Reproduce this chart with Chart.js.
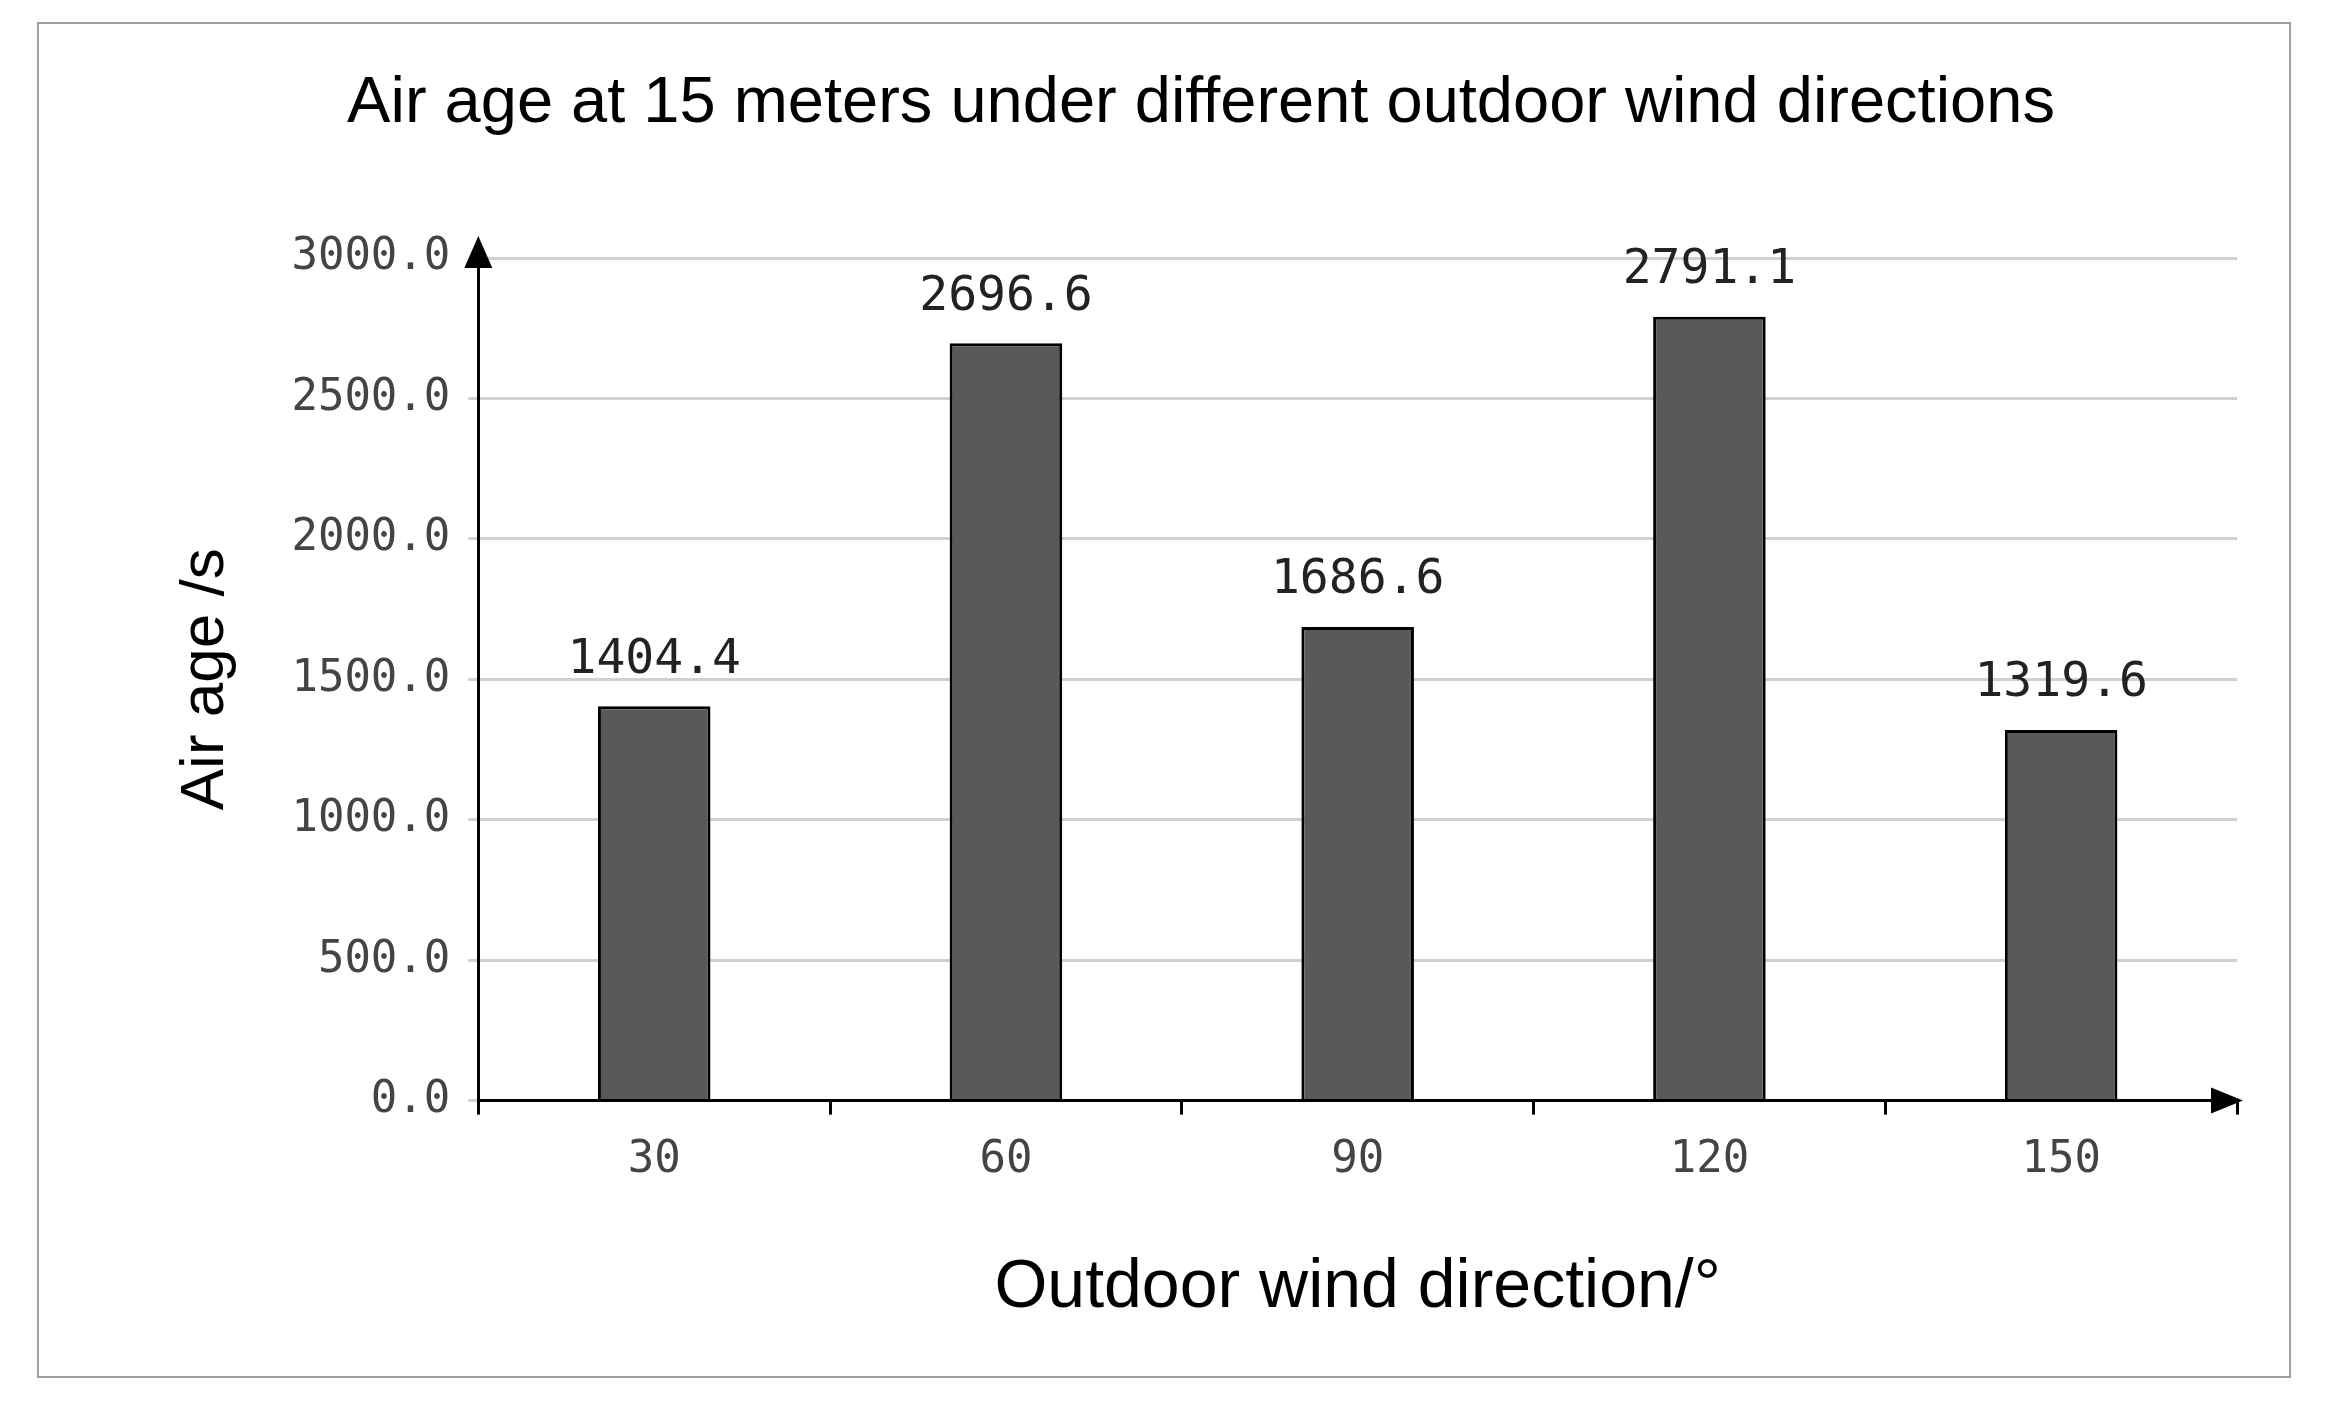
<!DOCTYPE html>
<html><head><meta charset="utf-8">
<script src="https://cdn.jsdelivr.net/npm/chart.js@4"></script>
<style>
html,body{margin:0;background:#fff;}
#frame{position:absolute;left:37px;top:22px;width:2254px;height:1356px;border:2px solid #a0a0a0;box-sizing:border-box;}
#wrap{position:absolute;left:0;top:0;width:2327px;height:1405px;}
</style></head><body>
<div id="frame"></div>
<div id="wrap"><canvas id="grafica"></canvas></div>
<script>
const direcciones = ["30","60","90","120","150"];
const edadAire = [1404.4, 2696.6, 1686.6, 2791.1, 1319.6];

// flechas en los ejes
const flechas = {
  id: 'flechas',
  afterDraw(chart){
    const c = chart.ctx, x = chart.scales.x, y = chart.scales.y;
    const y0 = y.getPixelForValue(0), yt = y.getPixelForValue(3000);
    c.save();
    c.fillStyle = '#000';
    c.beginPath();
    c.moveTo(x.left, yt - 22); c.lineTo(x.left - 14, yt + 10); c.lineTo(x.left + 14, yt + 10); c.closePath(); c.fill();
    c.beginPath();
    c.moveTo(x.right + 6, y0); c.lineTo(x.right - 26, y0 - 13); c.lineTo(x.right - 26, y0 + 13); c.closePath(); c.fill();
    c.restore();
  }
};

const etiquetas = {
  id: 'etiquetas',
  afterDatasetsDraw(chart){
    const c = chart.ctx, meta = chart.getDatasetMeta(0);
    c.save();
    c.font = '48px "DejaVu Sans Mono"';
    c.fillStyle = '#222';
    c.textAlign = 'center';
    c.textBaseline = 'bottom';
    meta.data.forEach((b, i) => c.fillText(edadAire[i].toFixed(1), b.x, b.y - 22));
    c.restore();
  }
};

new Chart(document.getElementById("grafica"), {
  type: 'bar',
  data: {
    labels: direcciones,
    datasets: [{
      data: edadAire,
      backgroundColor: "#595959",
      borderColor: "#000",
      borderWidth: 3,
      categoryPercentage: 1,
      barPercentage: 0.32
    }]
  },
  options: {
    responsive: true,
    maintainAspectRatio: false,
    animation: false,
    layout: { padding: { left: 165, right: 90, top: 35, bottom: 72 } },
    scales: {
      y: {
        min: 0, max: 3000,
        ticks: { stepSize: 500, callback: v => v.toFixed(1), color: '#444', font: { family: 'DejaVu Sans Mono', size: 44 }, padding: 18 },
        grid: { color: '#d0d0d0', lineWidth: 3, drawTicks: true, tickLength: 10 },
        border: { color: '#000', width: 3 },
        title: { display: true, text: 'Air age /s', color: '#000', font: { family: 'Liberation Sans', size: 62 }, padding: { bottom: 30 } }
      },
      x: {
        ticks: { color: '#444', font: { family: 'DejaVu Sans Mono', size: 44 }, padding: 20 },
        grid: { display: true, offset: true, drawOnChartArea: false, color: '#000', lineWidth: 3, tickLength: 14 },
        border: { color: '#000', width: 3 },
        title: { display: true, text: 'Outdoor wind direction/°', color: '#000', font: { family: 'Liberation Sans', size: 68 }, padding: { top: 40 } }
      }
    },
    plugins: {
      legend: { display: false },
      tooltip: { enabled: false },
      title: { display: true, text: 'Air age at 15 meters under different outdoor wind directions', color: '#000', font: { family: 'Liberation Sans', size: 65, weight: 'normal' }, padding: { top: 30, bottom: 115 } }
    }
  },
  plugins: [flechas, etiquetas]
});
</script>
</body></html>
